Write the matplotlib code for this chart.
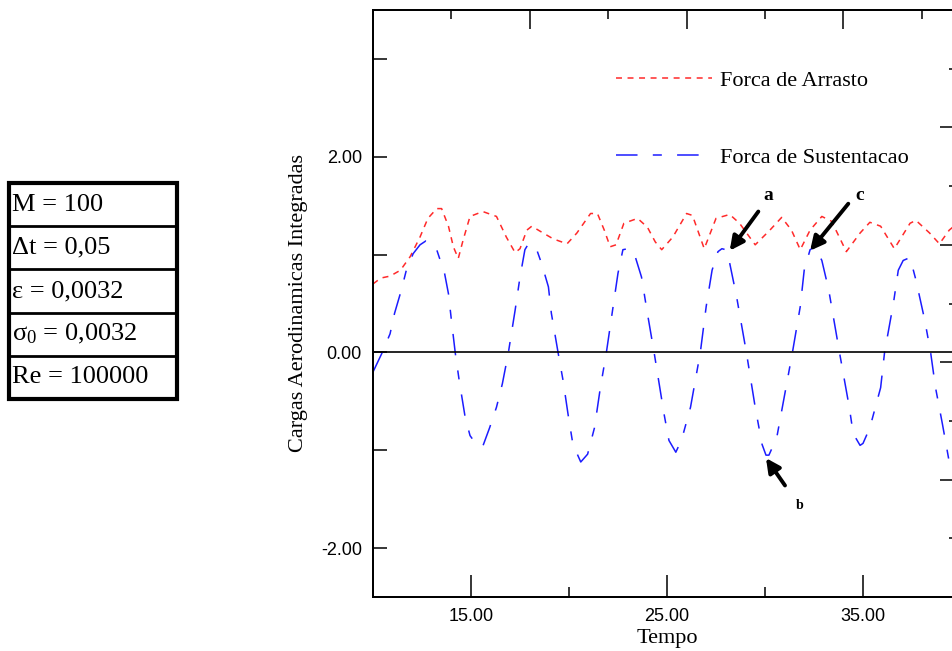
import matplotlib
matplotlib.use("Agg")
import matplotlib.pyplot as plt
from matplotlib.patches import Rectangle
from matplotlib.lines import Line2D

plt.rcParams['font.family'] = ['Liberation Serif', 'DejaVu Serif']
plt.rcParams['mathtext.fontset'] = 'custom'
plt.rcParams['mathtext.rm'] = 'Liberation Serif'
plt.rcParams['mathtext.default'] = 'regular'
plt.rcParams['lines.scale_dashes'] = False

# Forca de arrasto (tempo, valor)
t_arrasto = [10.0, 10.4, 10.87, 11.4, 11.9, 12.4, 12.8, 13.25, 13.5, 13.85, 14.1, 14.35,
             14.6, 14.95, 15.6, 16.3, 16.8, 17.25, 17.5, 17.85, 18.1, 18.6, 19.2, 19.9,
             20.4, 21.1, 21.45, 21.8, 22.1, 22.4, 22.8, 23.5, 24.0, 24.4, 24.73, 25.3,
             26.0, 26.3, 26.9, 27.5, 28.2, 28.7, 29.5, 30.25, 30.85, 31.35, 31.8, 32.3,
             32.9, 33.4, 34.15, 34.85, 35.35, 35.9, 36.6, 37.4, 37.7, 38.4, 38.9, 39.4, 40.0]
arrasto = [0.70, 0.76, 0.78, 0.84, 0.98, 1.18, 1.37, 1.47, 1.47, 1.29, 1.08, 0.96,
           1.15, 1.39, 1.44, 1.39, 1.18, 1.02, 1.06, 1.25, 1.29, 1.23, 1.16, 1.11,
           1.22, 1.42, 1.42, 1.25, 1.08, 1.10, 1.32, 1.37, 1.28, 1.13, 1.05, 1.18,
           1.42, 1.40, 1.06, 1.37, 1.41, 1.32, 1.10, 1.25, 1.38, 1.25, 1.05, 1.25,
           1.39, 1.34, 1.03, 1.22, 1.33, 1.29, 1.06, 1.32, 1.35, 1.22, 1.11, 1.25, 1.35]

# Forca de sustentacao (tempo, valor)
t_sust = [10.0, 10.45, 10.87, 11.1, 11.45, 11.7, 12.05, 12.4, 12.7, 13.0, 13.25, 13.65,
          13.85, 14.0, 14.2, 14.4, 14.7, 14.95, 15.2, 15.4, 15.6, 15.95, 16.3, 16.6,
          16.9, 17.25, 17.5, 17.75, 17.9, 18.1, 18.3, 18.6, 18.95, 19.1, 19.45, 19.7,
          19.95, 20.2, 20.6, 20.95, 21.3, 21.6, 21.9, 22.2, 22.5, 22.75, 23.0, 23.3,
          23.7, 24.0, 24.35, 24.85, 25.1, 25.45, 25.75, 26.2, 26.7, 27.0, 27.3, 27.6,
          27.8, 28.0, 28.15, 28.55, 29.05, 29.5, 29.85, 30.05, 30.2, 30.6, 30.95, 31.4,
          31.8, 32.0, 32.3, 32.55, 32.9, 33.25, 33.8, 34.3, 34.5, 34.85, 35.0, 35.35,
          35.9, 36.1, 36.55, 36.8, 37.05, 37.4, 37.7, 38.15, 38.45, 38.7, 39.05, 39.4, 40.0]
sust = [-0.20, -0.01, 0.19, 0.40, 0.64, 0.84, 1.01, 1.10, 1.14, 1.12, 1.05, 0.81,
        0.60, 0.33, -0.01, -0.29, -0.66, -0.85, -0.92, -0.96, -0.96, -0.77, -0.56, -0.32,
        -0.01, 0.43, 0.77, 1.05, 1.10, 1.11, 1.08, 0.91, 0.67, 0.40, -0.01, -0.29,
        -0.63, -0.94, -1.12, -1.04, -0.77, -0.36, -0.01, 0.40, 0.81, 1.05, 1.06, 1.03,
        0.77, 0.40, -0.01, -0.63, -0.90, -1.02, -0.89, -0.56, 0.0, 0.47, 0.84, 1.03,
        1.06, 1.05, 0.96, 0.57, 0.0, -0.56, -0.94, -1.05, -1.05, -0.87, -0.49, 0.0,
        0.47, 0.84, 1.05, 1.08, 0.94, 0.64, 0.0, -0.56, -0.83, -0.95, -0.93, -0.77,
        -0.36, 0.0, 0.50, 0.84, 0.94, 0.97, 0.74, 0.33, 0.0, -0.36, -0.73, -1.12, -1.40]

# parametros da simulacao
parametros = ["M = 100", "\u0394t = 0,05", "\u03b5 = 0,0032", "\u03c3$_0$ = 0,0032", "Re = 100000"]

# pontos marcados com setas: (rotulo, ponta, cauda, posicao do texto, tamanho)
setas = [("a", (28.2, 1.04), (29.66, 1.44), (30.17, 1.60), 14),
         ("c", (32.3, 1.04), (34.25, 1.52), (34.85, 1.60), 14),
         ("b", (30.05, -1.08), (31.02, -1.36), (31.75, -1.56), 10)]

fig = plt.figure(figsize=(9.52, 6.51), dpi=100)
ax = fig.add_axes([373 / 952, 54 / 651, 588 / 952, 587 / 651])

ax.plot(t_arrasto, arrasto, color='#ff2a2a', lw=1.1, dashes=(4.3, 4.0),
        label='Forca de Arrasto')
ax.plot(t_sust, sust, color='#1c1cff', lw=1.1, dashes=(15.5, 11, 6.5, 11),
        label='Forca de Sustentacao')
ax.axhline(0, color='black', lw=1.2)

ax.set_xlim(10, 40)
ax.set_ylim(-2.5, 3.5)

ax.set_xticks([15, 25, 35])
ax.set_xticks([20, 30], minor=True)
ax.set_yticks([-2, 0, 2])
ax.set_yticks([-1, 1, 3], minor=True)
ax.set_xticklabels(['%.2f' % v for v in [15, 25, 35]], family='Liberation Sans', fontsize=13)
ax.set_yticklabels(['%.2f' % v for v in [-2, 0, 2]], family='Liberation Sans', fontsize=13)
ax.tick_params(axis='x', which='major', direction='in', length=16, width=1.1, pad=8)
ax.tick_params(axis='x', which='minor', direction='in', length=7, width=1.1)
ax.tick_params(axis='y', which='both', direction='in', length=10, width=1.1, pad=8)

for s in ax.spines.values():
    s.set_linewidth(1.2)

ax.set_xlabel('Tempo', fontsize=16, labelpad=3)
ax.set_ylabel('Cargas Aerodinamicas Integradas', fontsize=16, labelpad=9)

# eixos auxiliares (somente marcas, sem rotulos)
ax_top = ax.twiny()
ax_top.set_xlim(10, 40)
ax_top.set_xticks([18, 26, 34])
ax_top.set_xticks([14, 22, 30, 38], minor=True)
ax_top.set_xticklabels([])
ax_top.tick_params(axis='x', which='major', direction='in', length=14, width=1.1)
ax_top.tick_params(axis='x', which='minor', direction='in', length=6.5, width=1.1)

ax_dir = ax.twinx()
ax_dir.set_ylim(-2.5, 3.5)
ax_dir.set_yticks([-2.5, -1.3, -0.1, 1.1, 2.3, 3.5])
ax_dir.set_yticks([-1.9, -0.7, 0.5, 1.7, 2.9], minor=True)
ax_dir.set_yticklabels([])
ax_dir.tick_params(axis='y', which='major', direction='in', length=15, width=1.1)
ax_dir.tick_params(axis='y', which='minor', direction='in', length=8.5, width=1.1)
for a in (ax_top, ax_dir):
    for s in a.spines.values():
        s.set_linewidth(1.2)

ax.legend(loc='upper left', bbox_to_anchor=(616 / 952, 1 - 70 / 651),
          bbox_transform=fig.transFigure, frameon=False, fontsize=16,
          handlelength=4.3, handletextpad=0.4, labelspacing=2.55,
          borderpad=0, borderaxespad=0)

for rotulo, ponta, cauda, pos, tam in setas:
    ax.annotate('', xy=ponta, xytext=cauda,
                arrowprops=dict(arrowstyle='-|>', color='black', lw=2.8,
                                mutation_scale=21, shrinkA=0, shrinkB=0))
    ax.text(pos[0], pos[1], rotulo, fontsize=tam, fontweight='bold',
            ha='center', va='center')

# tabela de parametros
x0, x1 = 9 / 952, 177 / 952
topo = 1 - 183 / 651
h = 43.2 / 651
for i, txt in enumerate(parametros):
    y_lin = topo - (i + 1) * h
    if i < len(parametros) - 1:
        fig.add_artist(Line2D([x0, x1], [y_lin, y_lin], transform=fig.transFigure,
                              color='black', lw=2.0))
    fig.text(x0 + 3 / 952, topo - (i + 0.5) * h, txt, fontsize=19,
             ha='left', va='center')
fig.add_artist(Rectangle((x0, topo - 5 * h), x1 - x0, 5 * h, transform=fig.transFigure,
                         fill=False, edgecolor='black', lw=3.0))

fig.savefig('out.png', dpi=100)
